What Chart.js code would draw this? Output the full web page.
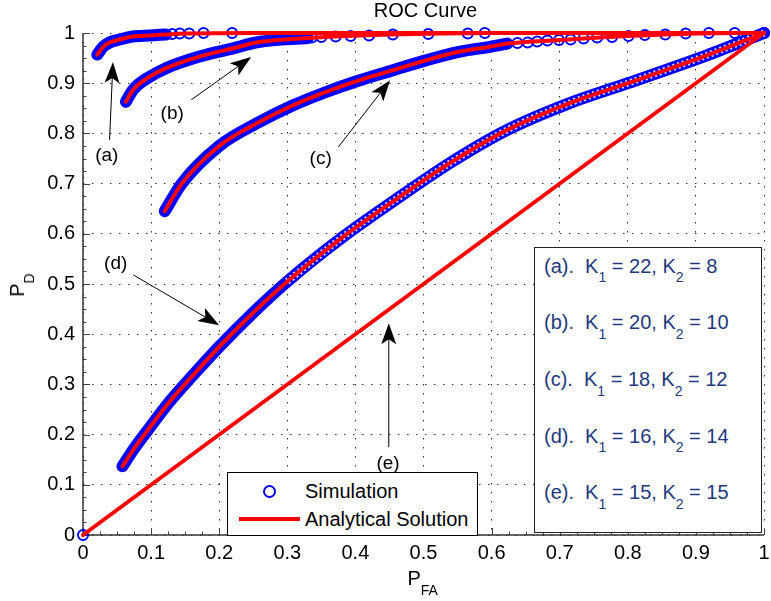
<!DOCTYPE html>
<html>
<head>
<meta charset="utf-8">
<script src="https://cdn.jsdelivr.net/npm/chart.js@4.4.0/dist/chart.umd.min.js"></script>
<style>
html, body { margin: 0; padding: 0; background: #fff; }
#wrap { position: relative; width: 771px; height: 601px; overflow: hidden;
  font-family: 'Liberation Sans', Arial, Helvetica, sans-serif; }
#c { position: absolute; left: 0; top: 0; }
.t { position: absolute; white-space: nowrap; color: #000; }
.sb { position: relative; }
#legend { position: absolute; left: 227px; top: 472px; width: 251px; height: 64px;
  box-sizing: border-box; border: 1px solid #000; background: #fff; }
#kbox { position: absolute; left: 534px; top: 247px; width: 228px; height: 286px;
  box-sizing: border-box; border: 1px solid #222; background: #fff; }
</style>
</head>
<body>
<div id="wrap">
  <canvas id="c" width="771" height="601"></canvas>
  <div class="t" style="left:325.5px;width:200px;text-align:center;top:0;font-size:20px;line-height:20px;">ROC Curve</div>
  <div class="t" style="left:407.5px;top:567.5px;font-size:20px;line-height:20px;">P<span class="sb" style="font-size:14px;top:10px;">FA</span></div>
  <div class="t" style="left:18px;top:285px;font-size:20px;line-height:20px;transform:translate(-50%,-50%) rotate(-90deg);">P<span class="sb" style="font-size:14px;top:10px;">D</span></div>
  <div id="legend">
    <span style="position:absolute;left:35px;top:12px;width:13px;height:13px;box-sizing:border-box;border:2px solid #0000ff;border-radius:50%;"></span>
    <span style="position:absolute;left:11px;top:44px;width:61px;height:4px;background:#ff0000;"></span>
    <div class="t" style="left:77px;top:7.6px;font-size:20px;line-height:20px;">Simulation</div>
    <div class="t" style="left:77px;top:36.1px;font-size:20px;line-height:20px;">Analytical Solution</div>
  </div>
  <div id="kbox"></div>
</div>
<script>
// ROC curve values (P_FA, P_D)
var pfaA = [0.021, 0.030, 0.039, 0.054, 0.073, 0.098, 0.122, 0.151, 0.25, 1];
var pdA  = [0.957, 0.973, 0.981, 0.987, 0.993, 0.995, 0.997, 0.999, 1.0, 1.0];
var dotsAx = [0.131, 0.142, 0.156, 0.177, 0.219];
var dotsAy = [0.998, 0.999, 0.999, 1.0, 1.0];

var pfaB = [0.063, 0.073, 0.098, 0.122, 0.171, 0.219, 0.258, 0.33, 0.45, 0.6, 1];
var pdB  = [0.863, 0.886, 0.913, 0.930, 0.953, 0.969, 0.982, 0.990, 0.997, 1.0, 1.0];
var dotsBx = [0.336, 0.350, 0.371, 0.393, 0.420, 0.455, 0.507, 0.565, 0.590];
var dotsBy = [0.991, 0.992, 0.993, 0.994, 0.995, 0.997, 0.998, 0.999, 1.0];

var pfaC = [0.12, 0.145, 0.2, 0.258, 0.307, 0.356, 0.404, 0.453, 0.502, 0.55, 0.599, 0.623, 0.70, 0.80, 0.90, 1];
var pdC  = [0.645, 0.70, 0.775, 0.822, 0.855, 0.882, 0.905, 0.925, 0.945, 0.962, 0.973, 0.979, 0.986, 0.994, 0.999, 1.0];
var dotsCx = [0.638, 0.653, 0.667, 0.682, 0.699, 0.716, 0.735, 0.755, 0.777, 0.801, 0.825, 0.855, 0.885, 0.919, 0.957, 1];
var dotsCy = [0.980, 0.981, 0.983, 0.985, 0.986, 0.987, 0.989, 0.991, 0.992, 0.994, 0.996, 0.997, 0.999, 1.0, 1.0, 1.0];

var pfaD = [0.058, 0.075, 0.093, 0.125, 0.166, 0.20, 0.25, 0.30, 0.38, 0.458, 0.54, 0.623, 0.71, 0.80, 0.915, 1];
var pdD  = [0.137, 0.172, 0.205, 0.262, 0.325, 0.375, 0.443, 0.505, 0.592, 0.667, 0.742, 0.807, 0.858, 0.900, 0.955, 1.0];

var pfaE = [0, 1];
var pdE  = [0, 1];
var dotsEx = [0, 1];
var dotsEy = [0, 1];

var tickVals = [0, 0.1, 0.2, 0.3, 0.4, 0.5, 0.6, 0.7, 0.8, 0.9, 1];
var tickLabels = ['0', '0.1', '0.2', '0.3', '0.4', '0.5', '0.6', '0.7', '0.8', '0.9', '1'];

// legend box on the right
var caseNames = ['(a)', '(b)', '(c)', '(d)', '(e)'];
var k1 = [22, 20, 18, 16, 15];
var k2 = [8, 10, 12, 14, 15];

// arrows and curve labels (in data units)
var labelPos  = [[0.035, 0.753], [0.131, 0.837], [0.349, 0.747], [0.048, 0.538], [0.448, 0.139]];
var arrowFrom = [[0.039, 0.787], [0.159, 0.867], [0.375, 0.773], [0.074, 0.518], [0.449, 0.175]];
var arrowTo   = [[0.044, 0.942], [0.247, 0.952], [0.451, 0.906], [0.200, 0.418], [0.449, 0.422]];

var BLUE = '#0000ff';
var RED = '#ff0000';
var FONT = "'Liberation Sans', Arial, Helvetica, sans-serif";

function pts(xs, ys, from, to) {
    var out = [];
    var a = from || 0, b = to || xs.length;
    for (var i = a; i < b; i++) out.push({ x: xs[i], y: ys[i] });
    return out;
}

// K box text
var kbox = document.getElementById('kbox');
var kTops = [7.6, 64.3, 121.1, 177.8, 234.3];
caseNames.forEach(function (nm, i) {
    var d = document.createElement('div');
    d.className = 't';
    d.style.cssText = 'left:9px;top:' + kTops[i] + 'px;font-size:20px;line-height:20px;color:#22397e;';
    d.innerHTML = nm + '.&nbsp; K<span class="sb" style="font-size:14px;top:9.5px;">1</span> = ' + k1[i] +
        ', K<span class="sb" style="font-size:14px;top:9.5px;">2</span> = ' + k2[i];
    kbox.appendChild(d);
});

function band(data) {
    return {
        data: data, showLine: true, borderColor: BLUE, borderWidth: 12,
        borderCapStyle: 'round', borderJoinStyle: 'round', pointRadius: 0,
        cubicInterpolationMode: 'monotone', clip: false, order: 3
    };
}
// hollow look where the simulated circles thin out
function bandInner(data) {
    return {
        data: data, showLine: true, borderColor: 'rgba(255,255,255,0.85)', borderWidth: 7,
        borderDash: [2, 3], pointRadius: 0, cubicInterpolationMode: 'monotone', clip: false, order: 1
    };
}
function dots(data) {
    return {
        data: data, showLine: false, pointRadius: 5, pointBorderWidth: 2,
        pointBorderColor: BLUE, pointBackgroundColor: 'rgba(0,0,0,0)', clip: false, order: 2
    };
}
function analytic(data) {
    return {
        data: data, showLine: true, borderColor: RED, borderWidth: 4, pointRadius: 0,
        borderCapStyle: 'round', cubicInterpolationMode: 'monotone', clip: false, order: 0
    };
}

function drawArrow(ctx, x1, y1, x2, y2) {
    var ang = Math.atan2(y2 - y1, x2 - x1);
    var c = Math.cos(ang), s = Math.sin(ang);
    var L = 21, W = 7.5, N = 16;
    var bx = x2 - L * c, by = y2 - L * s;
    var nx = x2 - N * c, ny = y2 - N * s;
    ctx.beginPath();
    ctx.moveTo(x1, y1);
    ctx.lineTo(nx, ny);
    ctx.stroke();
    ctx.beginPath();
    ctx.moveTo(x2, y2);
    ctx.lineTo(bx - W * s, by + W * c);
    ctx.lineTo(nx, ny);
    ctx.lineTo(bx + W * s, by - W * c);
    ctx.closePath();
    ctx.fill();
}

var decor = {
    id: 'decor',
    beforeDatasetsDraw: function (chart) {
        var ctx = chart.ctx, a = chart.chartArea, x = chart.scales.x, y = chart.scales.y;
        ctx.save();
        ctx.strokeStyle = '#444';
        ctx.lineWidth = 1;
        ctx.beginPath();
        for (var i = 0; i <= 40; i++) {
            var v = i / 40;
            var len = (i % 4 === 0) ? 7 : 3.5;
            var px = Math.round(x.getPixelForValue(v)) + 0.5;
            var py = Math.round(y.getPixelForValue(v)) + 0.5;
            ctx.moveTo(px, a.bottom);
            ctx.lineTo(px, a.bottom - len);
            ctx.moveTo(a.left, py);
            ctx.lineTo(a.left + len, py);
        }
        ctx.stroke();
        ctx.strokeStyle = '#333';
        ctx.lineWidth = 1.5;
        ctx.beginPath();
        ctx.moveTo(a.left, a.top);
        ctx.lineTo(a.left, a.bottom);
        ctx.lineTo(a.right, a.bottom);
        ctx.stroke();
        ctx.restore();
    },
    afterDatasetsDraw: function (chart) {
        var ctx = chart.ctx, x = chart.scales.x, y = chart.scales.y;
        ctx.save();
        ctx.strokeStyle = '#000';
        ctx.fillStyle = '#000';
        ctx.lineWidth = 1;
        for (var i = 0; i < arrowTo.length; i++) {
            drawArrow(ctx,
                x.getPixelForValue(arrowFrom[i][0]), y.getPixelForValue(arrowFrom[i][1]),
                x.getPixelForValue(arrowTo[i][0]), y.getPixelForValue(arrowTo[i][1]));
        }
        ctx.font = '19px ' + FONT;
        ctx.textAlign = 'center';
        ctx.textBaseline = 'middle';
        for (var j = 0; j < caseNames.length; j++) {
            ctx.fillText(caseNames[j], x.getPixelForValue(labelPos[j][0]), y.getPixelForValue(labelPos[j][1]) - 1);
        }
        ctx.restore();
    }
};

function axisOpts(isX) {
    return {
        type: 'linear', min: 0, max: 1,
        afterBuildTicks: function (s) { s.ticks = tickVals.map(function (v) { return { value: v }; }); },
        ticks: {
            color: '#000', font: { size: 20, family: FONT }, padding: isX ? 6 : 8,
            maxRotation: 0, autoSkip: false,
            callback: function (v) { var k = tickVals.indexOf(v); return k >= 0 ? tickLabels[k] : ''; }
        },
        grid: { color: 'rgba(0,0,0,0.8)', lineWidth: 1, drawTicks: false },
        border: { display: false, dash: [1.5, 7.5] },
        afterFit: function (s) {
            if (isX) { s.height = 66; s.paddingLeft = 0; s.paddingRight = 0; }
            else { s.width = 83; s.paddingTop = 0; s.paddingBottom = 0; }
        }
    };
}

var ctx = document.getElementById('c').getContext('2d');
var rocChart = new Chart(ctx, {
    type: 'scatter',
    data: {
        datasets: [
            band(pts(pfaA, pdA, 0, 7)), dots(pts(dotsAx, dotsAy)),
            band(pts(pfaB, pdB, 0, 8)), dots(pts(dotsBx, dotsBy)),
            band(pts(pfaC, pdC, 0, 12)), dots(pts(dotsCx, dotsCy)),
            band(pts(pfaD, pdD)), bandInner(pts(pfaD, pdD, 7)),
            dots(pts(dotsEx, dotsEy)),
            analytic(pts(pfaA, pdA)),
            analytic(pts(pfaB, pdB)),
            analytic(pts(pfaC, pdC)),
            analytic(pts(pfaD, pdD)),
            analytic(pts(pfaE, pdE))
        ]
    },
    options: {
        responsive: false,
        animation: false,
        layout: { padding: { top: 33, right: 3, left: 0, bottom: 0 } },
        plugins: { legend: { display: false }, title: { display: false }, tooltip: { enabled: false } },
        scales: { x: axisOpts(true), y: axisOpts(false) }
    },
    plugins: [decor]
});
</script>
</body>
</html>
